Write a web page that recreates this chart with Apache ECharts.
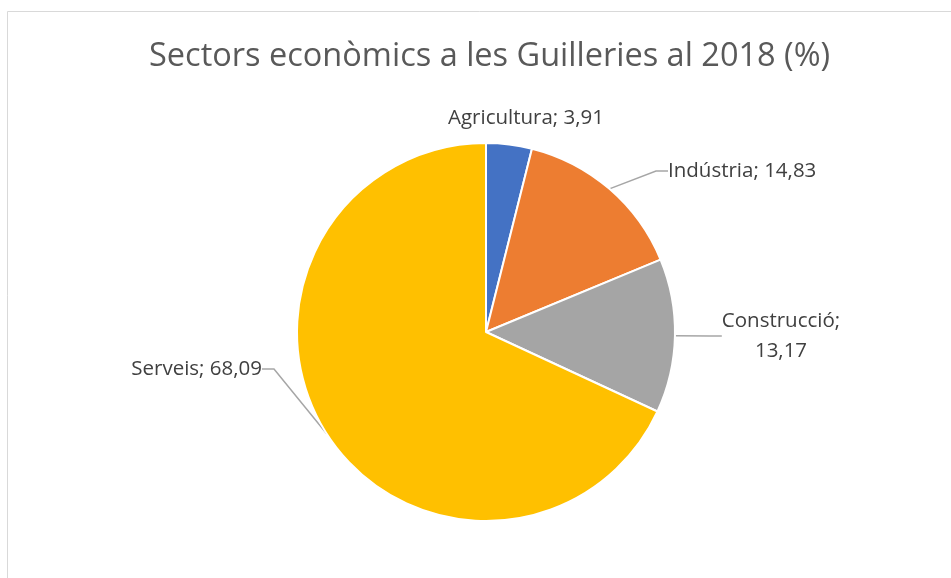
<!DOCTYPE html>
<html>
<head>
<meta charset="utf-8">
<script src="https://cdn.jsdelivr.net/npm/echarts@6/dist/echarts.min.js"></script>
<style>
  html, body { margin: 0; padding: 0; background: #fff; }
  #chart { width: 951px; height: 578px; }
</style>
</head>
<body>
<div id="chart"></div>
<script>
var sectors = ['Agricultura', 'Indústria', 'Construcció', 'Serveis'];
var shares = [3.91, 14.83, 13.17, 68.09];
var colors = ['#4472c4', '#ed7d31', '#a5a5a5', '#ffc000'];

// where Excel put each data label (anchor, alignment)
var labelSpots = [
    { x: 526, y: 118, align: 'center' },
    { x: 668, y: 171, align: 'left' },
    { x: 781, y: 336, align: 'center' },
    { x: 262, y: 369, align: 'right' }
];

var myChart = echarts.init(document.getElementById('chart'));

var pieData = sectors.map(function (name, i) {
    return {
        name: name,
        value: shares[i],
        itemStyle: { color: colors[i] },
        labelLine: { show: i !== 0 }
    };
});

var option = {
    backgroundColor: '#fff',
    animation: false,
    title: {
        text: 'Sectors econòmics a les Guilleries al 2018 (%)',
        left: 144,
        top: 35,
        textStyle: {
            fontFamily: 'Open Sans',
            fontWeight: 'normal',
            fontSize: 32.5,
            color: '#595959'
        }
    },
    graphic: [
        {
            type: 'rect',
            shape: { x: 7.5, y: 11.5, width: 960, height: 600 },
            style: { fill: 'none', stroke: '#d9d9d9', lineWidth: 1 },
            silent: true
        }
    ],
    series: [
        {
            type: 'pie',
            center: [486, 332],
            radius: 189,
            startAngle: 90,
            clockwise: true,
            itemStyle: { borderColor: '#fff', borderWidth: 2 },
            label: {
                show: true,
                position: 'outside',
                fontFamily: 'Open Sans',
                fontSize: 20.5,
                color: '#404040',
                lineHeight: 30,
                align: 'center',
                formatter: function (p) {
                    var v = p.value.toFixed(2).replace('.', ',');
                    // Excel wrapped this one
                    return p.name + ';' + (p.name === 'Construcció' ? '\n' : ' ') + v;
                }
            },
            labelLine: {
                show: true,
                length: 15,
                length2: 12,
                lineStyle: { color: '#a6a6a6', width: 1.5 }
            },
            labelLayout: function (params) {
                var s = labelSpots[params.dataIndex];
                return { x: s.x, y: s.y, align: s.align, verticalAlign: 'middle' };
            },
            data: pieData
        }
    ]
};

myChart.setOption(option);
</script>
</body>
</html>
